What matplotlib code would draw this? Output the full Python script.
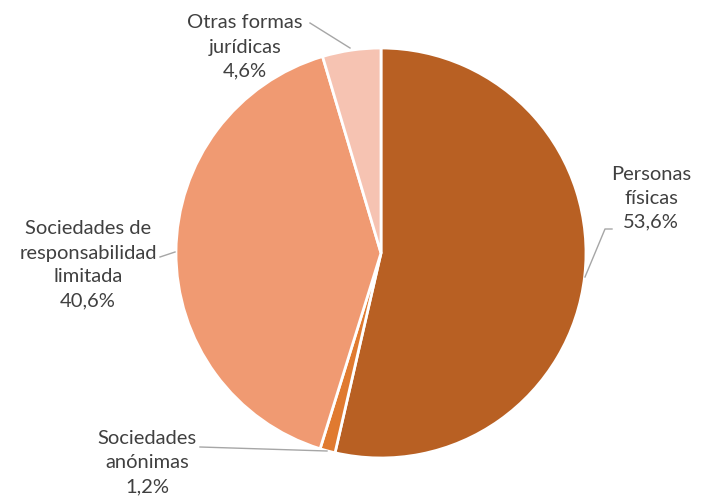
import matplotlib.pyplot as plt

labels = ['Personas\nfísicas', 'Sociedades\nanónimas',
          'Sociedades de\nresponsabilidad\nlimitada', 'Otras formas\njurídicas']
shares = [53.6, 1.2, 40.6, 4.6]
colors = ['#B86023', '#E07A30', '#F09A72', '#F6C3B2']

# label text positions and leader line paths (pixel coords, y up)
label_pos = [(651, 304), (147, 39), (88, 237), (245, 455)]
leaders = [[(612, 272), (605, 272), (585, 224)],
           [(200, 54), (327, 50)],
           [(160, 244), (175, 249)],
           [(310, 478), (350, 453)]]

plt.rcParams['font.family'] = ['Lato', 'DejaVu Sans']

fig = plt.figure(figsize=(7.04, 5.02), dpi=100)
ax = fig.add_axes([0, 0, 1, 1])

ax.pie(shares, colors=colors, startangle=90, counterclock=False,
       center=(381, 248), radius=205,
       wedgeprops=dict(edgecolor='white', linewidth=2))

for lab, val, (x, y), path in zip(labels, shares, label_pos, leaders):
    txt = lab + '\n' + f'{val:.1f}'.replace('.', ',') + '%'
    ax.text(x, y, txt, ha='center', va='center', fontsize=14.5,
            color='#404040', linespacing=1.5)
    xs = [p[0] for p in path]
    ys = [p[1] for p in path]
    ax.plot(xs, ys, color='#A6A6A6', linewidth=1)

ax.set_xlim(0, 704)
ax.set_ylim(0, 502)
ax.set_aspect('equal')
ax.axis('off')

fig.savefig('out.png', dpi=100)
